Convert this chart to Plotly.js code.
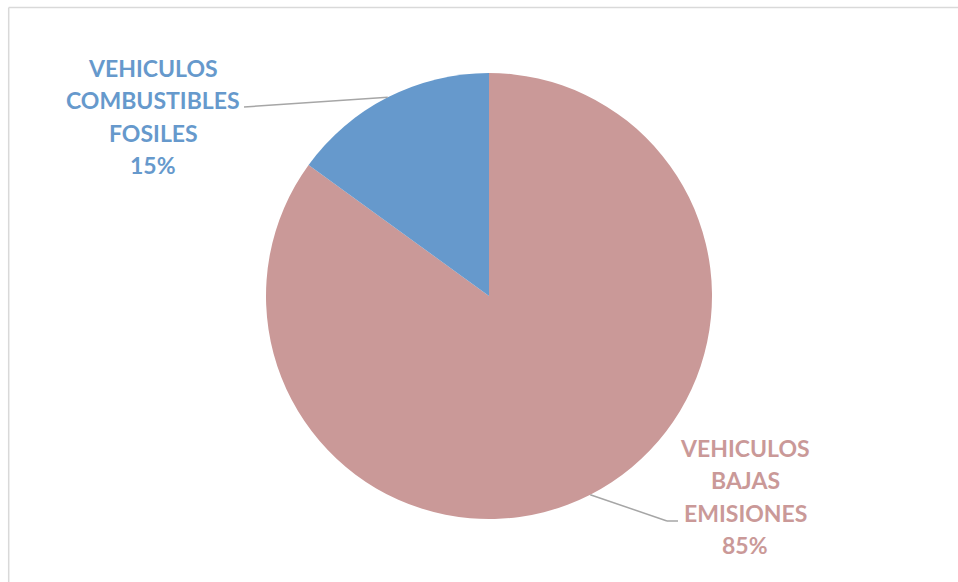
<!DOCTYPE html>
<html><head><meta charset="utf-8">
<script src="https://cdn.plot.ly/plotly-3.0.1.min.js"></script>
<style>html,body{margin:0;padding:0;background:#fff}#chart{width:958px;height:582px}</style>
</head><body><div id="chart"></div>
<script>
const categories = ["VEHICULOS BAJAS EMISIONES", "VEHICULOS COMBUSTIBLES FOSILES"];
const labelLines = [["VEHICULOS", "BAJAS", "EMISIONES"], ["VEHICULOS", "COMBUSTIBLES", "FOSILES"]];
const values = [85, 15];
const colors = ["#CA9998", "#6699CC"];

const W = 958, H = 582;
const cx = 489, cy = 296, R = 223;
const px = x => x / W;
const py = y => 1 - y / H;

const total = values.reduce((a, b) => a + b, 0);
let acc = 0;
const mids = values.map(v => { const m = (acc + v / 2) / total * 2 * Math.PI; acc += v; return m; });
const edge = mids.map(a => [cx + R * Math.sin(a), cy - R * Math.cos(a)]);

const labelTop = [[745, 448], [153, 68]];
const lineGap = 32.3;
const lineEnds = [[[667, 521], [678, 521]], [[244, 107]]];

const shapes = [
  {type: 'line', xref: 'paper', yref: 'paper', x0: px(8.7), x1: px(8.7), y0: 0, y1: py(7.5), line: {color: '#d9d9d9', width: 1.5}},
  {type: 'line', xref: 'paper', yref: 'paper', x0: px(8.7), x1: 1, y0: py(7.5), y1: py(7.5), line: {color: '#d9d9d9', width: 1.5}}
];
values.forEach((v, i) => {
  const pts = [edge[i]].concat(lineEnds[i]);
  for (let k = 0; k < pts.length - 1; k++) {
    shapes.push({type: 'line', xref: 'paper', yref: 'paper', x0: px(pts[k][0]), y0: py(pts[k][1]),
      x1: px(pts[k + 1][0]), y1: py(pts[k + 1][1]), line: {color: '#a6a6a6', width: 1.5}});
  }
});

const annotations = [];
values.forEach((v, i) => {
  const lines = labelLines[i].concat([Math.round(v / total * 100) + '%']);
  lines.forEach((t, j) => annotations.push({
    xref: 'paper', yref: 'paper', x: px(labelTop[i][0]), y: py(labelTop[i][1] + j * lineGap),
    xanchor: 'center', yanchor: 'middle', showarrow: false,
    text: '<b>' + t + '</b>',
    font: {family: 'Lato, sans-serif', size: 23, color: colors[i]}
  }));
});

const data = [{
  type: 'pie', values: values, labels: categories, sort: false, direction: 'clockwise', rotation: 0,
  marker: {colors: colors, line: {width: 0}}, textinfo: 'none', hoverinfo: 'label+percent',
  domain: {x: [px(cx - R), px(cx + R)], y: [py(cy + R), py(cy - R)]}, automargin: false, showlegend: false
}];

Plotly.newPlot('chart', data, {
  width: W, height: H, margin: {l: 0, r: 0, t: 0, b: 0}, paper_bgcolor: '#fff',
  shapes: shapes, annotations: annotations, showlegend: false
}, {displayModeBar: false, staticPlot: true});
</script></body></html>
